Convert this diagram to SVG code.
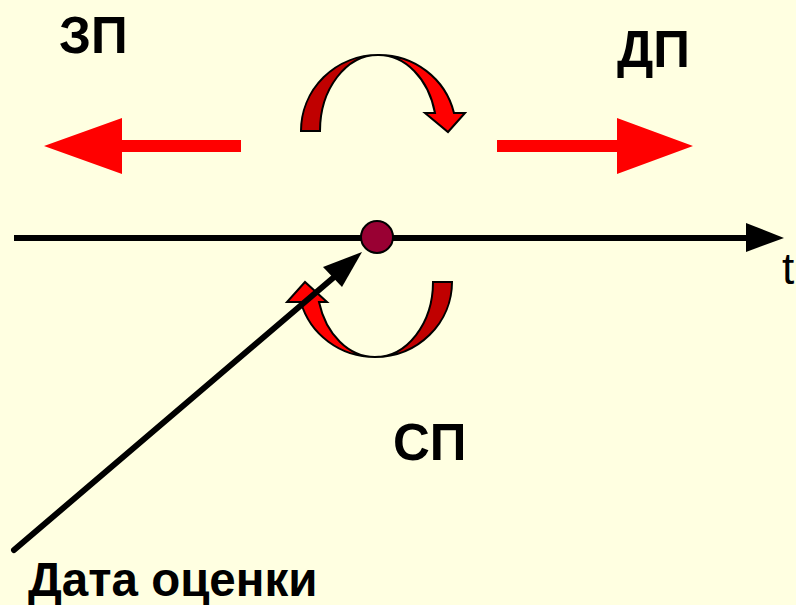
<svg xmlns="http://www.w3.org/2000/svg" width="796" height="605" viewBox="0 0 796 605">
<style>
.lbl{font-family:"Liberation Sans",Arial,sans-serif;font-weight:bold;fill:#000}
.dark{fill:#C00000;stroke:#000;stroke-width:2;stroke-linejoin:miter}
.bright{fill:#FF0000;stroke:#000;stroke-width:2;stroke-linejoin:miter}
.flat{fill:#FF0000;stroke:none}
</style>
<rect width="796" height="605" fill="#FFFFE1"/>
<g id="connectors">
<line x1="14" y1="238" x2="750" y2="238" stroke="#000" stroke-width="6"/>
<polygon points="746,223 784,238 746,252" fill="#000"/>
</g>
<g id="left-arrow">
<polygon class="flat" points="241,140 122,140 122,118 44,146 122,174 122,152 241,152"/>
</g>
<g id="right-arrow">
<polygon class="flat" points="497,140 617,140 617,118 693,146 617,174 617,152 497,152"/>
</g>
<g id="top-curve">
<path class="dark" d="M301,131 A77,76 0 0 1 378,55 A58,76 0 0 0 320,131 Z"/>
<path class="bright" d="M378,55 A77,76 0 0 1 454,113 L465,113 L448,132 L425,113 L435,113 A58,76 0 0 0 378,55 Z"/>
</g>
<g id="bottom-curve">
<path class="dark" d="M433,282 L452,282 A77,75 0 0 1 375,357 A58,75 0 0 0 433,282 Z"/>
<path class="bright" d="M375,357 A77,75 0 0 1 300.8,302 L287,302 L305,282 L327,302 L319,302 A58,75 0 0 0 375,357 Z"/>
</g>
<g id="date-arrow">
<line x1="14" y1="550" x2="340" y2="272" stroke="#000" stroke-width="6" stroke-linecap="round"/>
<polygon points="362,252 342,287 323,267" fill="#000"/>
</g>
<g id="dot">
<circle cx="377" cy="237" r="16" fill="#990033" stroke="#000" stroke-width="2"/>
</g>
<g id="labels">
<text class="lbl" x="59" y="53" font-size="51">ЗП</text>
<text class="lbl" x="617" y="67" font-size="51">ДП</text>
<text class="lbl" x="393" y="460" font-size="51">СП</text>
<text class="lbl" x="28" y="596" font-size="47.5">Дата оценки</text>
<text x="782" y="284" font-family="Liberation Sans,Arial,sans-serif" font-size="44" fill="#000">t</text>
</g>
</svg>
